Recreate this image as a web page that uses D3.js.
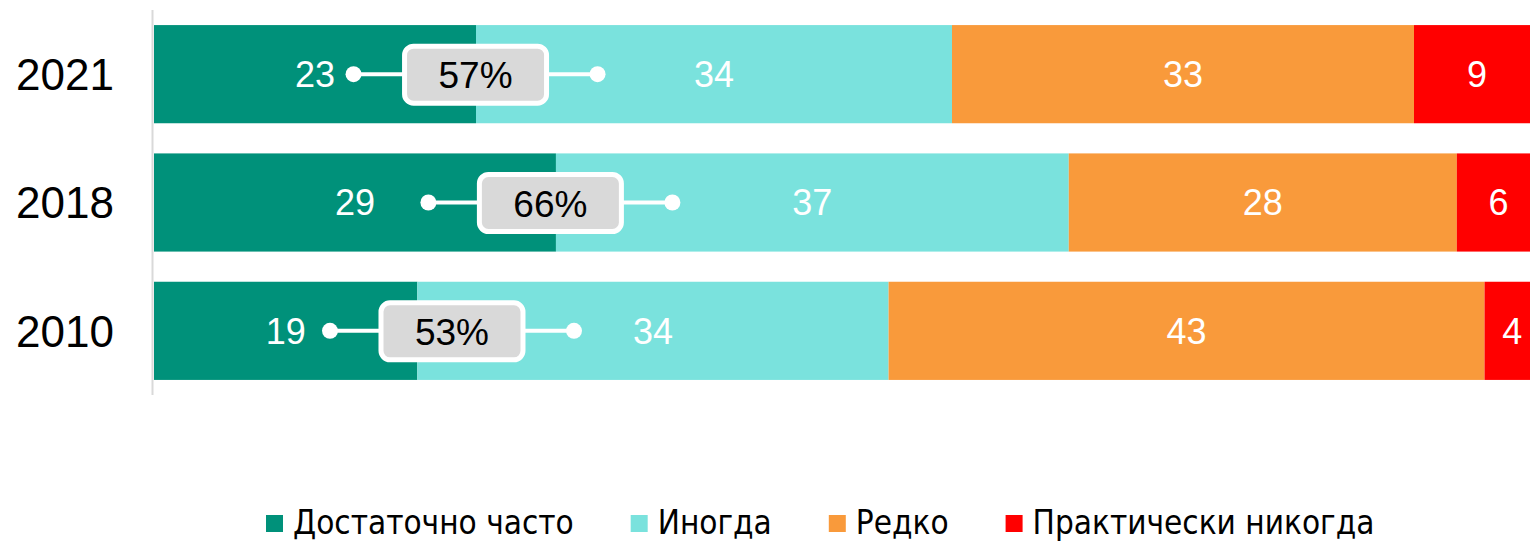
<!DOCTYPE html>
<html>
<head>
<meta charset="utf-8">
<script src="https://cdn.jsdelivr.net/npm/d3@7"></script>
<style>
  body { margin: 0; background: #fff; }
  svg { display: block; }
</style>
</head>
<body>
<script>
const years = ["2021", "2018", "2010"]
const categories = ["Достаточно часто", "Иногда", "Редко", "Практически никогда"]
const often = [23, 29, 19]
const sometimes = [34, 37, 34]
const rarely = [33, 28, 43]
const never = [9, 6, 4]
const summary = ["57%", "66%", "53%"]
// where the summary bubble sits along the bar (share of the bar, %)
const summaryAt = [23.2, 28.6, 21.5]

const colors = ["#00917a", "#7ae2dd", "#f99a3b", "#ff0000"]

const width = 1530, height = 542

const svg = d3.select("body").append("svg")
  .attr("width", width)
  .attr("height", height)

const rows = years.map((y, i) => {
  const vals = [often[i], sometimes[i], rarely[i], never[i]]
  const total = d3.sum(vals)
  let acc = 0
  const segs = vals.map((v, j) => {
    const s = { year: y, cat: j, v: v, x0: acc / total, x1: (acc + v) / total }
    acc += v
    return s
  })
  return { year: y, segs: segs, summary: summary[i], at: summaryAt[i] / 100 }
})

const x = d3.scaleLinear().domain([0, 1]).range([154, 1540])
const y = d3.scaleBand().domain(years).range([10, 395])
  .paddingInner(0.235).paddingOuter(0.1175)

const font = "'Liberation Sans', Arial, sans-serif"

// y axis line
svg.append("line")
  .attr("x1", 152.5).attr("x2", 152.5)
  .attr("y1", 10).attr("y2", 395)
  .attr("stroke", "#d9d9d9").attr("stroke-width", 2)

// year labels
svg.selectAll(".year")
  .data(years)
  .enter().append("text")
  .attr("class", "year")
  .attr("x", 16)
  .attr("y", d => y(d) + y.bandwidth() / 2)
  .attr("dy", "0.36em")
  .attr("font-family", font)
  .attr("font-size", 44)
  .attr("fill", "#000")
  .text(d => d)

const g = svg.selectAll(".row")
  .data(rows)
  .enter().append("g")
  .attr("class", "row")

g.selectAll("rect")
  .data(d => d.segs)
  .enter().append("rect")
  .attr("x", d => x(d.x0))
  .attr("y", d => y(d.year))
  .attr("width", d => x(d.x1) - x(d.x0))
  .attr("height", y.bandwidth())
  .attr("fill", d => colors[d.cat])

g.selectAll(".val")
  .data(d => d.segs)
  .enter().append("text")
  .attr("class", "val")
  .attr("x", d => (x(d.x0) + x(d.x1)) / 2)
  .attr("y", d => y(d.year) + y.bandwidth() / 2)
  .attr("dy", "0.36em")
  .attr("text-anchor", "middle")
  .attr("font-family", font)
  .attr("font-size", 36)
  .attr("fill", "#fff")
  .text(d => d.v)

// summary bubbles
const bub = g.append("g")
  .attr("transform", d => `translate(${x(d.at)},${y(d.year) + y.bandwidth() / 2})`)

bub.append("line")
  .attr("x1", -122).attr("x2", 122)
  .attr("stroke", "#fff").attr("stroke-width", 4)
bub.append("circle").attr("cx", -122).attr("r", 8).attr("fill", "#fff")
bub.append("circle").attr("cx", 122).attr("r", 8).attr("fill", "#fff")
bub.append("rect")
  .attr("x", -71).attr("y", -28)
  .attr("width", 142).attr("height", 57)
  .attr("rx", 9)
  .attr("fill", "#d9d9d9")
  .attr("stroke", "#fff").attr("stroke-width", 5)
bub.append("text")
  .attr("text-anchor", "middle")
  .attr("dy", "0.38em")
  .attr("font-family", font)
  .attr("font-size", 37)
  .attr("fill", "#000")
  .text(d => d.summary)

// legend
const legend = svg.append("g")
const items = legend.selectAll(".item")
  .data(categories)
  .enter().append("g")
  .attr("class", "item")

items.append("rect")
  .attr("width", 17).attr("height", 17)
  .attr("y", -8)
  .attr("fill", (d, i) => colors[i])

items.append("text")
  .attr("x", 27)
  .attr("dy", "0.34em")
  .attr("font-family", "'Liberation Sans Narrow', 'DejaVu Sans Condensed', sans-serif")
  .attr("font-size", 33)
  .attr("fill", "#000")
  .text(d => d)

let lx = 266
items.each(function () {
  const w = d3.select(this).select("text").node().getComputedTextLength()
  d3.select(this).attr("transform", `translate(${lx},523)`)
  lx += 27 + w + 57
})
</script>
</body>
</html>
